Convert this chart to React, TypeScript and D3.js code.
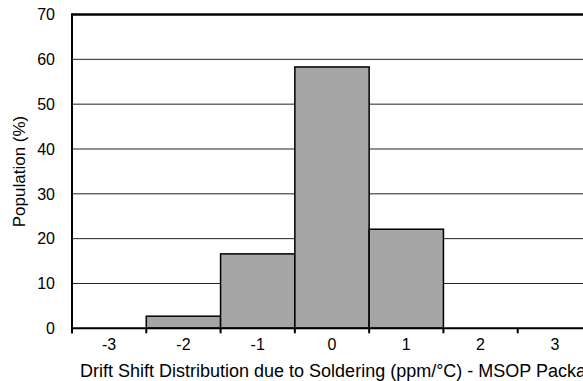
import React from "react";
import * as d3 from "d3";

const categories = [-3, -2, -1, 0, 1, 2, 3];
const population = [0, 2.7, 16.6, 58.3, 22.1, 0, 0];
const yTicks = [0, 10, 20, 30, 40, 50, 60, 70];
const xTitle = "Drift Shift Distribution due to Soldering (ppm/°C) - MSOP Package";
const yTitle = "Population (%)";

export default function App() {
  const W = 583, H = 381;
  const left = 72, right = 592, top = 14.5, bottom = 328.3;
  const x = d3.scaleLinear().domain([-3.5, 3.5]).range([left, right]);
  const y = d3.scaleLinear().domain([0, 70]).range([bottom, top]);
  const font = "Liberation Sans, Arial, sans-serif";
  const boundaries = d3.range(-3.5, 4, 1);
  return (
    <svg width={W} height={H} style={{ position: "absolute", left: 0, top: 0, background: "#fff" }}>
      <rect x={0} y={0} width={W} height={H} fill="#fff" />
      {yTicks.filter(t => t > 0 && t < 70).map(t => (
        <line key={t} x1={left} x2={right} y1={y(t)} y2={y(t)} stroke="#222" strokeWidth={1} />
      ))}
      {categories.map((c, i) =>
        population[i] > 0 ? (
          <rect key={c} x={x(c - 0.5)} y={y(population[i])} width={x(c + 0.5) - x(c - 0.5)}
            height={y(0) - y(population[i])} fill="#a6a6a6" stroke="#000" strokeWidth={1.5} />
        ) : null
      )}
      <line x1={left} x2={right} y1={top} y2={top} stroke="#000" strokeWidth={2.6} />
      <line x1={left} x2={left} y1={top - 1.3} y2={bottom + 5} stroke="#000" strokeWidth={2} />
      <line x1={left} x2={right} y1={bottom} y2={bottom} stroke="#000" strokeWidth={2} />
      {boundaries.map(b => (
        <line key={b} x1={x(b)} x2={x(b)} y1={bottom} y2={bottom + 5} stroke="#000" strokeWidth={2} />
      ))}
      {yTicks.map(t => (
        <text key={t} x={55} y={y(t)} dy="0.36em" textAnchor="end" fontFamily={font} fontSize={16} fill="#000">{t}</text>
      ))}
      {categories.map(c => (
        <text key={c} x={x(c)} y={350} textAnchor="middle" fontFamily={font} fontSize={16} fill="#000">{c}</text>
      ))}
      <text x={80} y={377} fontFamily={font} fontSize={18} fill="#000">{xTitle}</text>
      <text transform={`translate(25,171.5) rotate(-90)`} textAnchor="middle" fontFamily={font} fontSize={17} fill="#000">{yTitle}</text>
    </svg>
  );
}
